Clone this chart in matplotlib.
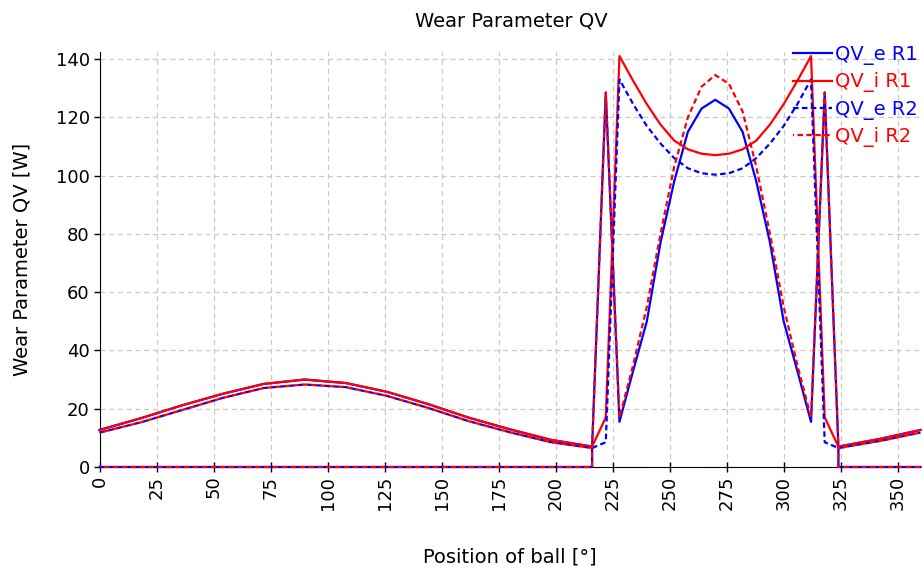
import numpy as np
import matplotlib
matplotlib.use("Agg")
import matplotlib.pyplot as plt

# ======== data
# outer zone (smooth arc), left part and right part
arc_x_left = [0, 18, 36, 54, 72, 90, 108, 126, 144, 162, 180, 198, 216]
arc_r1_left = [12.7, 16.7, 21.1, 25.1, 28.5, 30.0, 28.8, 25.8, 21.6, 16.9, 12.9, 9.3, 7.0]
arc_r2_left = [11.8, 15.3, 19.5, 23.7, 27.1, 28.3, 27.4, 24.4, 20.3, 15.7, 11.9, 8.5, 6.5]
arc_x_right = [324, 342, 360]
arc_r1_right = [7.0, 9.6, 12.7]
arc_r2_right = [6.5, 8.9, 11.8]

# centre zone
mid_x = [228, 234, 240, 246, 252, 258, 264, 270, 276, 282, 288, 294, 300, 306, 312]
u_i_r1 = [141, 132.5, 124.5, 117.5, 112, 109, 107.5, 107, 107.5, 109, 112, 117.5, 124.5, 132.5, 141]
v_e_r1 = [15.5, 33, 50, 77, 98, 115, 123, 126, 123, 115, 98, 77, 50, 33, 15.5]
u_e_r2 = [133, 124.5, 117, 111, 106, 102.5, 100.8, 100.3, 100.8, 102.5, 106, 111, 117, 124.5, 133]
v_i_r2 = [17, 35, 55, 80, 103, 120, 130.5, 134.5, 131.5, 122, 103, 80, 55, 35, 17]

# transitions between the zones
lead_x_in, lead_x_out = [222], [318]
lead_r1 = [17]
lead_r2 = [8.5]
spike_x_in = [216, 216, 222]
spike_y_in = [0, 7, 128.5]
spike_x_out = [318, 324, 324]
spike_y_out = [128.5, 7, 0]
base_x_left, base_x_right = [0, 216], [324, 360]
base_y = [0, 0]

NAN = [np.nan]


def arc_line(r_left, r_right, lead, u):
    x = arc_x_left + lead_x_in + mid_x + lead_x_out + arc_x_right
    y = r_left + lead + u + lead + r_right
    return x, y


def spike_line(v):
    x = base_x_left + spike_x_in + mid_x + spike_x_out + base_x_right
    y = base_y + spike_y_in + v + spike_y_out + base_y
    return x, y


def arc_only(r_left, r_right):
    return arc_x_left + NAN + arc_x_right, r_left + NAN + r_right


# ======== series
x1a, y1a = arc_only(arc_r1_left, arc_r1_right)
x1b, y1b = spike_line(v_e_r1)
e_r1_x, e_r1_y = x1a + NAN + x1b, y1a + NAN + y1b

i_r1_x, i_r1_y = arc_line(arc_r1_left, arc_r1_right, lead_r1, u_i_r1)

e_r2_x, e_r2_y = arc_line(arc_r2_left, arc_r2_right, lead_r2, u_e_r2)

x4a, y4a = arc_only(arc_r2_left, arc_r2_right)
x4b, y4b = spike_line(v_i_r2)
i_r2_x, i_r2_y = x4a + NAN + x4b, y4a + NAN + y4b

# ======== figure
fig = plt.figure(figsize=(9.24, 5.72), dpi=100)
ax = fig.add_axes([0.1077, 0.1836, 0.8885, 0.726])

lw = 1.6
ax.plot(e_r1_x, e_r1_y, color="#0000ff", lw=lw, label="QV_e R1", clip_on=False, zorder=3)
ax.plot(i_r1_x, i_r1_y, color="#ff0000", lw=lw, label="QV_i R1", clip_on=False, zorder=3)
ax.plot(e_r2_x, e_r2_y, color="#0000ff", lw=lw, ls=(0, (2.5, 1.5)), label="QV_e R2", clip_on=False, zorder=3)
ax.plot(i_r2_x, i_r2_y, color="#ff0000", lw=lw, ls=(2, (2.5, 1.5)), label="QV_i R2", clip_on=False, zorder=3)

ax.set_xlim(0, 360)
ax.set_ylim(0, 142.5)
ax.set_xticks(np.arange(0, 351, 25))
ax.set_yticks(np.arange(0, 141, 20))

ax.grid(True, color="#c8c8c8", linestyle=(0, (4, 3)), linewidth=0.9)
ax.set_axisbelow(True)
for s in ["top", "right"]:
    ax.spines[s].set_visible(False)

ax.tick_params(axis="x", direction="inout", length=6.5, width=1, labelsize=13, labelrotation=90, pad=3)
ax.tick_params(axis="y", direction="out", length=4, width=1, labelsize=13, pad=3)

ax.set_xlabel("Position of ball [°]", fontsize=14)
ax.xaxis.set_label_coords(0.5, -0.195)
ax.set_ylabel("Wear Parameter QV [W]", fontsize=14)
ax.yaxis.set_label_coords(-0.083, 0.5)

fig.text(511 / 924, 1 - 21 / 572, "Wear Parameter QV", ha="center", va="center", fontsize=14)

ax.legend(loc="upper left", bbox_to_anchor=(793 / 924, 1 - 45 / 572), bbox_transform=fig.transFigure,
          frameon=False, fontsize=14, handlelength=2.0, handletextpad=0.15, labelspacing=0.38,
          borderpad=0, borderaxespad=0, labelcolor="linecolor")

fig.savefig("out.png", dpi=100)
